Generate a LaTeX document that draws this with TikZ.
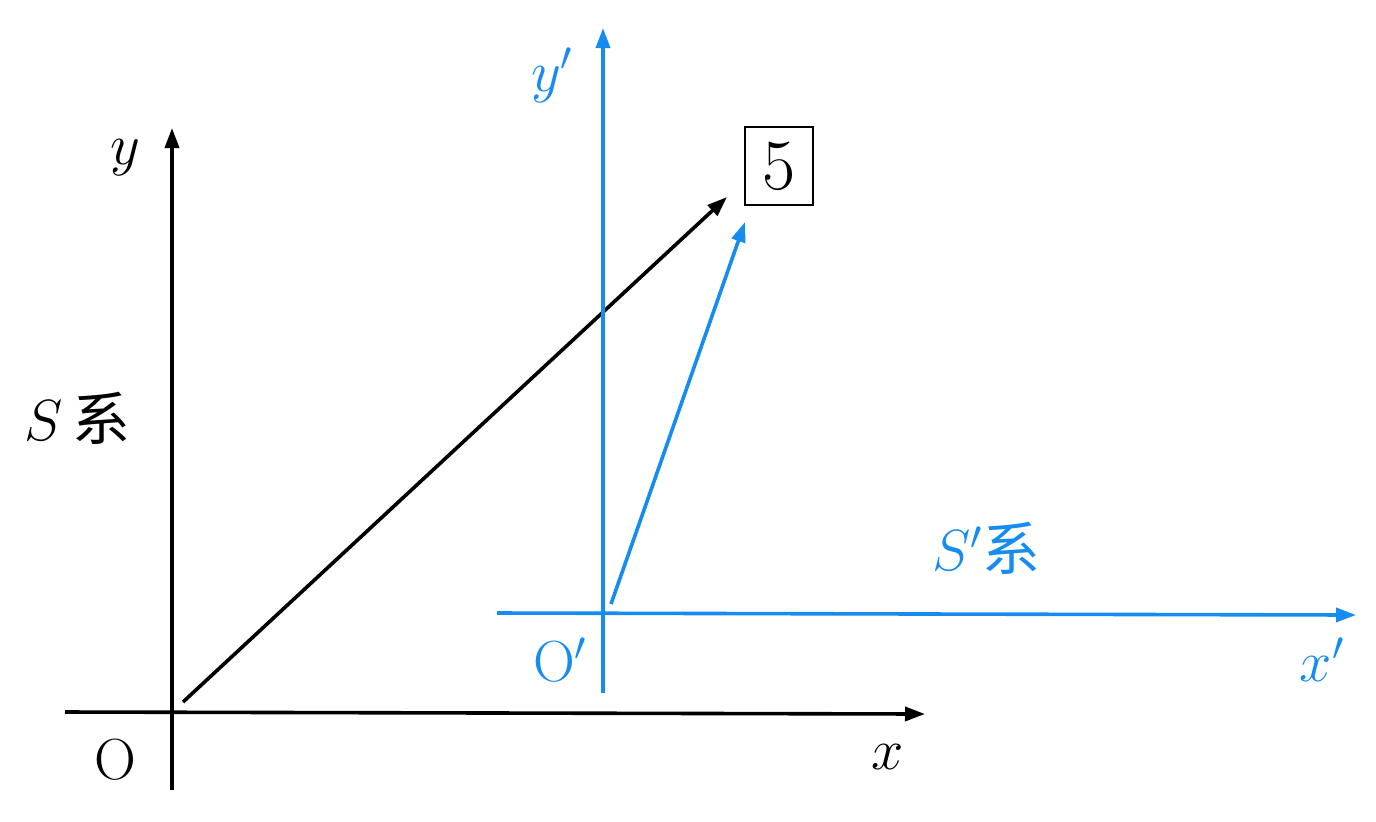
\documentclass[tikz,border=0pt]{standalone}
\usepackage{fix-cm}
\usepackage{fontspec}
\newfontfamily\cjk{Noto Sans CJK SC}
\usetikzlibrary{arrows.meta}
\definecolor{skyb}{RGB}{22,140,240}
\tikzset{
  axis/.style={line width=1.8pt,-{Triangle[length=10pt,width=7pt]}},
  vec/.style={line width=1.8pt,-{Triangle[length=10pt,width=7pt]}},
  lab/.style={inner sep=0pt,font=\fontsize{29}{34}\selectfont},
}
\begin{document}
\begin{tikzpicture}[x=0.5pt,y=-0.5pt]
\useasboundingbox (0,0) rectangle (1376,821);
% black frame
\coordinate (xa0) at (65,712);
\coordinate (xa1) at (925,714);
\coordinate (ya0) at (172,790);
\coordinate (ya1) at (172,128);
\draw[axis] (xa0) -- (xa1);
\draw[axis] (ya0) -- (ya1);
\node[lab] (ylab) at (125,158) {$y$};
\node[lab] (olab) at (115,760) {O};
\node[lab] (xlab) at (888,757) {$x$};
\node[lab,anchor=west] (slab) at (24,418) {$S$\,{\cjk 系}};
\coordinate (v0) at (183,702);
\coordinate (v1) at (727,197);
\draw[vec] (v0) -- (v1);
\node[draw,line width=1.2pt,minimum width=34pt,minimum height=39pt,inner sep=0pt,font=\fontsize{36}{40}\selectfont] (five) at (779,166) {5};
% blue frame
\begin{scope}[skyb]
\coordinate (xb0) at (497,613);
\coordinate (xb1) at (1356,615);
\coordinate (yb0) at (603,693);
\coordinate (yb1) at (603,28);
\draw[axis] (xb0) -- (xb1);
\draw[axis] (yb0) -- (yb1);
\node[lab] (yplab) at (552,75) {$y'$};
\node[lab] (xplab) at (1322,660) {$x'$};
\node[lab] (oplab) at (560,660) {O$'$};
\node[lab,anchor=west] (splab) at (932,548) {$S'${\cjk 系}};
\coordinate (w0) at (611,604);
\coordinate (w1) at (745,222);
\draw[vec] (w0) -- (w1);
\end{scope}
\end{tikzpicture}
\end{document}
